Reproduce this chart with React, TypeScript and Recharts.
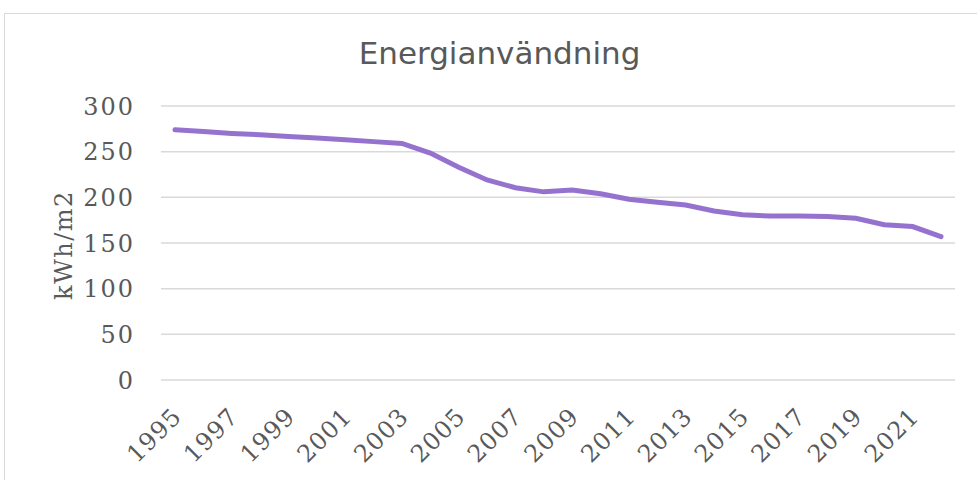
import { LineChart, Line, XAxis, YAxis, CartesianGrid } from "recharts";

const years = [
  "1995", "1996", "1997", "1998", "1999", "2000", "2001", "2002", "2003", "2004",
  "2005", "2006", "2007", "2008", "2009", "2010", "2011", "2012", "2013", "2014",
  "2015", "2016", "2017", "2018", "2019", "2020", "2021", "2022",
];

const energy = [
  274, 272, 270, 268.5, 266.5, 265, 263, 261, 259, 248.5,
  233, 219, 210.5, 206, 208, 204, 198, 194.5, 191.5, 185,
  181, 179.5, 179.5, 179, 177, 170, 168, 157,
];

const yTicks = [0, 50, 100, 150, 200, 250, 300];

const data = years.map((year, i) => ({ year, value: energy[i] }));

const serif = "'DejaVu Serif', serif";
const textColor = "#595959";

function XTick({ x, y, payload }: any) {
  const tx = x + 8;
  const ty = y + 38;
  return (
    <text
      x={tx}
      y={ty}
      transform={`rotate(-45, ${tx}, ${ty})`}
      textAnchor="end"
      fill={textColor}
      fontFamily={serif}
      fontSize={24}
      letterSpacing={1}
    >
      {payload.value}
    </text>
  );
}

function YTitle({ viewBox }: any) {
  const x = 67;
  const y = viewBox.y + viewBox.height / 2 + 2;
  return (
    <text
      x={x}
      y={y}
      transform={`rotate(-90, ${x}, ${y})`}
      textAnchor="middle"
      fill={textColor}
      fontFamily={serif}
      fontSize={24}
      letterSpacing={1.5}
    >
      kWh/m2
    </text>
  );
}

export default function App() {
  return (
    <div
      style={{
        position: "absolute",
        left: 0,
        top: 0,
        width: 977,
        height: 480,
        overflow: "hidden",
        background: "#fff",
      }}
    >
      <div
        style={{
          position: "absolute",
          left: 4,
          top: 13,
          width: 989,
          height: 480,
          border: "1px solid #d9d9d9",
          background: "#fff",
        }}
      >
        <div
          style={{
            position: "absolute",
            left: 0,
            top: 24,
            width: 989,
            textAlign: "center",
            fontFamily: "'DejaVu Sans', sans-serif",
            fontSize: 31,
            lineHeight: "31px",
            color: textColor,
          }}
        >
          Energianvändning
        </div>
        <LineChart
          width={989}
          height={466}
          data={data}
          margin={{ top: 92, right: 39, left: 0, bottom: 0 }}
        >
          <CartesianGrid vertical={false} stroke="#d9d9d9" strokeWidth={1.5} />
          <XAxis
            dataKey="year"
            interval={1}
            padding={{ left: 14, right: 14 }}
            tickLine={false}
            axisLine={false}
            tickSize={0}
            tickMargin={0}
            height={100}
            tick={<XTick />}
          />
          <YAxis
            width={156}
            domain={[0, 300]}
            ticks={yTicks}
            tickLine={false}
            axisLine={false}
            tickSize={0}
            tickMargin={26}
            tick={{ fill: textColor, fontFamily: serif, fontSize: 24, letterSpacing: 2 }}
            label={<YTitle />}
          />
          <Line
            type="linear"
            dataKey="value"
            stroke="#9672cf"
            strokeWidth={5}
            dot={false}
            strokeLinecap="round"
            isAnimationActive={false}
          />
        </LineChart>
      </div>
    </div>
  );
}
